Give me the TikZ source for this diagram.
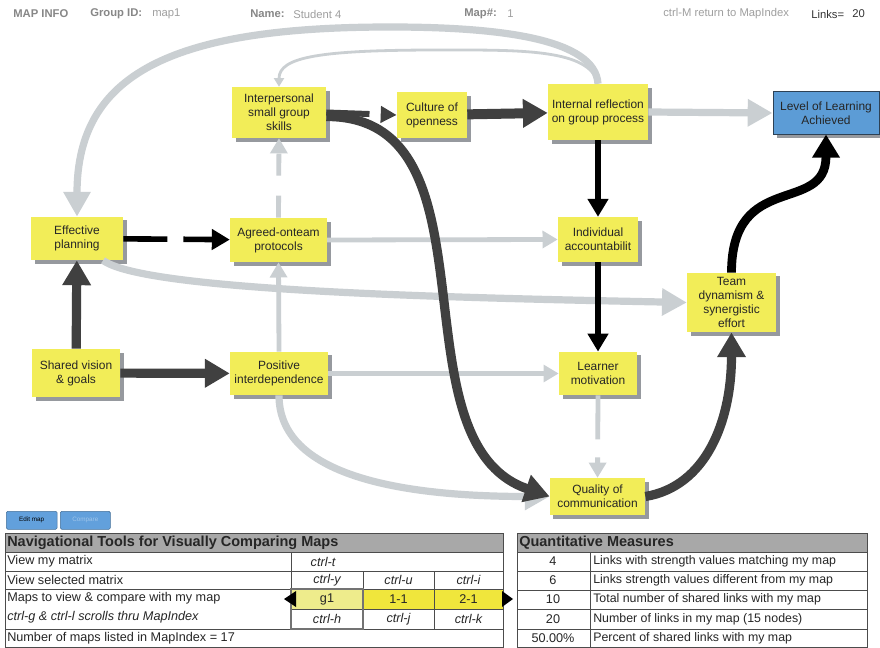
\documentclass[tikz,border=0pt]{standalone}
\usepackage{fontspec}
\setmainfont{Liberation Sans}
\usepackage{xcolor}
\usepackage{tikz}
\usetikzlibrary{positioning,shapes,arrows.meta,calc,shadows}

\definecolor{padyellow}{RGB}{242,237,88}
\definecolor{padshadow}{RGB}{150,153,158}
\definecolor{linkdark}{RGB}{64,64,64}
\definecolor{linklight}{RGB}{202,207,210}
\definecolor{goalblue}{RGB}{92,156,214}
\definecolor{goaledge}{RGB}{45,65,85}
\definecolor{infogray}{RGB}{135,135,135}
\definecolor{headgray}{RGB}{168,168,168}
\definecolor{cellyellow}{RGB}{240,230,60}
\definecolor{cellpale}{RGB}{238,236,140}
\definecolor{btnblue}{RGB}{98,160,220}

\begin{document}
\begin{tikzpicture}[x=0.025cm, y=-0.025cm,
    concept/.style={fill=padyellow, align=center, inner sep=1pt, text=black!85,
      font=\fontsize{8.5}{10}\selectfont,
      drop shadow={shadow xshift=0.09cm, shadow yshift=-0.09cm, fill=padshadow, opacity=1}},
    goal/.style={concept, fill=goalblue, draw=goaledge, line width=0.7pt},
    darklink/.style={draw=linkdark, line width=0.23cm, -{Triangle[length=0.62cm,width=0.68cm]}},
    lightlink/.style={draw=linklight, line width=0.18cm, -{Triangle[length=0.62cm,width=0.65cm]}},
    lightmid/.style={draw=linklight, line width=0.12cm, -{Triangle[length=0.38cm,width=0.42cm]}},
    lightthin/.style={draw=linklight, line width=0.07cm, -{Triangle[length=0.22cm,width=0.25cm]}},
    blacklink/.style={draw=black, line width=0.14cm, -{Triangle[length=0.45cm,width=0.5cm]}},
    infotext/.style={anchor=west, inner sep=0pt, text=infogray, font=\fontsize{8}{9}\selectfont},
    tabtext/.style={inner sep=0pt, text=black!85, font=\fontsize{9}{10}\selectfont},
    gridline/.style={draw=black!70, line width=0.6pt},
    button/.style={fill=btnblue, draw=btnblue!70!black, line width=0.4pt, rounded corners=1pt,
      inner sep=0pt, font=\fontsize{4.5}{5}\selectfont}]

    \useasboundingbox[fill=white] (0,0) rectangle (880,648);

    % header line
    \node[infotext, font=\fontsize{8}{9}\selectfont\bfseries] (hdinfo) at (13,14) {MAP INFO};
    \node[infotext, font=\fontsize{8}{9}\selectfont\bfseries] (hdgroup) at (90,14) {Group ID:};
    \node[infotext, text=infogray!80] (hdgroupval) at (152,14) {map1};
    \node[infotext, font=\fontsize{8}{9}\selectfont\bfseries] (hdname) at (250,14) {Name:};
    \node[infotext, text=infogray!80] (hdnameval) at (293,14) {Student 4};
    \node[infotext, font=\fontsize{8}{9}\selectfont\bfseries] (hdmap) at (464,14) {Map\#:};
    \node[infotext, text=infogray!80] (hdmapval) at (507,14) {1};
    \node[infotext, text=infogray!80] (hdreturn) at (663,14) {ctrl-M return to MapIndex};
    \node[infotext, text=black!80] (hdlinks) at (811,14) {Links=};
    \node[infotext, text=black!80] (hdlinksval) at (852,14) {20};

    % concepts
    \node[concept, minimum width=2.35cm, minimum height=1.27cm] (skills) at (279,112.5) {Interpersonal\\small group\\skills};
    \node[concept, minimum width=1.75cm, minimum height=1.15cm] (culture) at (432,115) {Culture of\\openness};
    \node[concept, minimum width=2.5cm, minimum height=1.4cm] (reflect) at (598,112) {Internal reflection\\on group process};
    \node[goal, minimum width=2.65cm, minimum height=1.05cm] (level) at (826,113) {Level of Learning\\Achieved};
    \node[concept, minimum width=2.3cm, minimum height=1.08cm] (planning) at (77,238.5) {Effective\\planning};
    \node[concept, minimum width=2.42cm, minimum height=1.1cm] (protocols) at (278.5,240) {Agreed-onteam\\protocols};
    \node[concept, minimum width=2cm, minimum height=1.12cm] (account) at (598,239.5) {Individual\\accountabilit};
    \node[concept, minimum width=2.22cm, minimum height=1.48cm] (team) at (731.5,302.5) {Team\\dynamism \&\\synergistic\\effort};
    \node[concept, minimum width=2.2cm, minimum height=1.2cm] (vision) at (76,373) {Shared vision\\\& goals};
    \node[concept, minimum width=2.45cm, minimum height=1.08cm] (positive) at (279,373.5) {Positive\\interdependence};
    \node[concept, minimum width=1.95cm, minimum height=1.08cm] (motivation) at (598,373.5) {Learner\\motivation};
    \node[concept, minimum width=2.38cm, minimum height=0.92cm] (quality) at (597.5,496.5) {Quality of\\communication};

    % light links
    \draw[lightlink] (reflect.north) .. controls +(-3,-45) and +(110,0) .. (390,27)
        .. controls +(-220,0) and +(0,-142) .. (planning.north);
    \draw[lightthin] (reflect.north) .. controls +(-8,-35) and +(80,0) .. (440,50)
        .. controls +(-120,0) and +(0,-30) .. (skills.north);
    \draw[lightlink] (reflect.east) -- (level.west);
    \draw[lightlink] (planning.-40) .. controls +(40,30) and +(-250,-5) .. (team.west);
    \draw[lightmid] (protocols.east) -- (account.west);
    \draw[lightmid] (positive.east) -- (motivation.west);
    \draw[lightmid] (positive.north) -- (protocols.south);
    \draw[lightmid, dash pattern=on 0.55cm off 0.5cm] (protocols.north) -- (skills.south);
    \draw[lightmid, dash pattern=on 1.1cm off 0.45cm] (motivation.south) -- (quality.north);
    \draw[lightlink] (positive.south) .. controls +(0,80) and +(-150,0) .. (quality.west);

    % black links
    \draw[blacklink, dash pattern=on 1.1cm off 0.4cm] (planning) -- (protocols);
    \draw[blacklink] (reflect) -- (account);
    \draw[blacklink] (account) -- (motivation);
    \draw[blacklink, line width=0.22cm, -{Triangle[length=0.58cm,width=0.66cm]}] (team.north) .. controls +(0,-103) and +(0,81) .. (level.south);

    % dark links
    \draw[darklink, line width=0.15cm, -{Triangle[length=0.4cm,width=0.4cm]}, dash pattern=on 1.08cm off 0.3cm] (skills.east) -- (culture.west);
    \draw[darklink, line width=0.25cm] (culture) -- (reflect);
    \draw[darklink] ([yshift=-0.1cm]skills.east) .. controls +(178,0) and +(-160,-55) .. (quality.west);
    \draw[darklink] (vision) -- (planning);
    \draw[darklink] (vision) -- (positive);
    \draw[darklink] (quality.east) .. controls +(60,-10) and +(0,90) .. (team.south);

    % buttons
    \node[button, anchor=north west, minimum width=1.27cm, minimum height=0.45cm] (editbtn) at (6,511) {Edit map};
    \node[button, anchor=north west, minimum width=1.25cm, minimum height=0.45cm, text=btnblue!60!white] (comparebtn) at (60,511) {Compare};

    % navigation table
    \fill[headgray] (5,533) rectangle (503,552);
    \fill[cellpale] (291,589) rectangle (363,609);
    \fill[cellyellow] (363,589) rectangle (503,609);
    \draw[gridline] (5,533) rectangle (503,647.5);
    \foreach \y in {552,571,589,629} \draw[gridline] (5,\y) -- (503,\y);
    \draw[gridline] (291,609) -- (503,609);
    \draw[gridline] (291,552) -- (291,629);
    \draw[gridline] (363,571) -- (363,629);
    \draw[gridline] (434,571) -- (434,629);
    \draw[black!55, line width=1.4pt] (291,589) rectangle (363,629);
    \fill[black] (284,599) -- (296,591) -- (296,607) -- cycle;
    \fill[black] (513,599) -- (502,591) -- (502,607) -- cycle;

    \node[tabtext, anchor=west, font=\fontsize{10.3}{11}\selectfont\bfseries] (navtitle) at (7,542.5) {Navigational Tools for Visually Comparing Maps};
    \foreach \txt/\y [count=\i] in {View my matrix/561.5, View selected matrix/580, Maps to view \& compare with my map/598.5, Number of maps listed in MapIndex = 17/638.5}
        \node[tabtext, anchor=west] (nav\i) at (7,\y) {\txt};
    \node[tabtext, anchor=west, font=\fontsize{9}{10}\selectfont\itshape] (navscroll) at (7,617.5) {ctrl-g \& ctrl-l scrolls thru MapIndex};
    \node[tabtext, font=\fontsize{9}{10}\selectfont\itshape] (keyt) at (323,561.5) {ctrl-t};
    \foreach \key/\x [count=\i] in {y/327, u/398.5, i/468.5}
        \node[tabtext, font=\fontsize{9}{10}\selectfont\itshape] (keyup\i) at (\x,580) {ctrl-\key};
    \foreach \lbl/\x [count=\i] in {g1/327, 1-1/398.5, 2-1/468.5}
        \node[tabtext] (mapsel\i) at (\x,599) {\lbl};
    \foreach \key/\x [count=\i] in {h/327, j/398.5, k/468.5}
        \node[tabtext, font=\fontsize{9}{10}\selectfont\itshape] (keydown\i) at (\x,619) {ctrl-\key};

    % quantitative measures table
    \fill[headgray] (517,533) rectangle (867,552);
    \draw[gridline] (517,533) rectangle (867,647.5);
    \foreach \y in {552,571,590,609,629} \draw[gridline] (517,\y) -- (867,\y);
    \draw[gridline] (590,552) -- (590,647.5);
    \node[tabtext, anchor=west, font=\fontsize{10.3}{11}\selectfont\bfseries] (quanttitle) at (519,542.5) {Quantitative Measures};
    \foreach \val/\txt/\y [count=\i] in {4/Links with strength values matching my map/561.5,
        6/Links strength values different from my map/580.5,
        10/Total number of shared links with my map/599.5,
        20/Number of links in my map (15 nodes)/619,
        50.00\%/Percent of shared links with my map/638.5} {
        \node[tabtext] (qval\i) at (553,\y) {\val};
        \node[tabtext, anchor=west, font=\fontsize{8.8}{10}\selectfont] (qtxt\i) at (593,\y) {\txt};
    }
\end{tikzpicture}
\end{document}
